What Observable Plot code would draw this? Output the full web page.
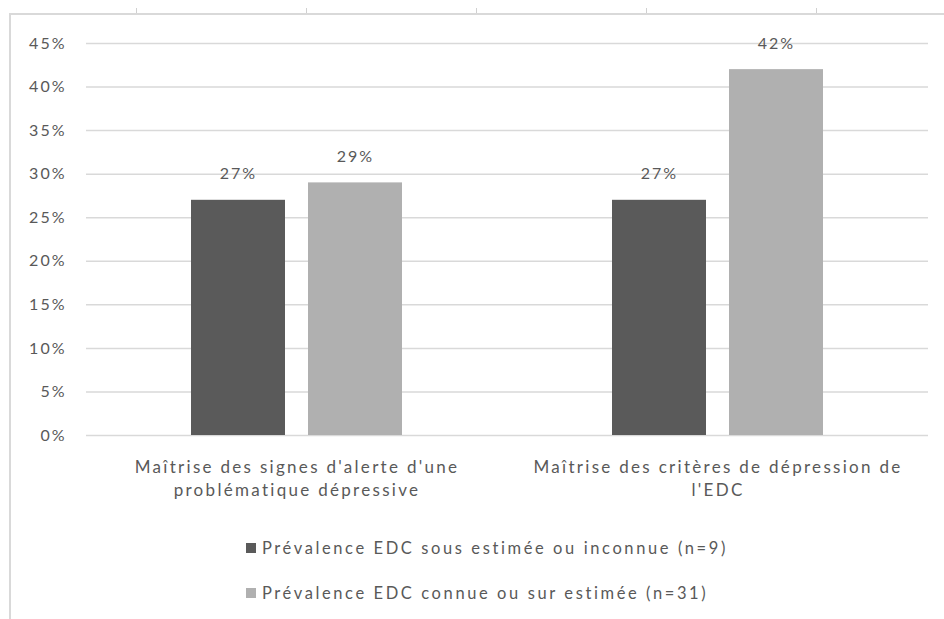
<!DOCTYPE html>
<html>
<head>
<meta charset="utf-8">
<script src="https://cdn.jsdelivr.net/npm/d3@7"></script>
<script src="https://cdn.jsdelivr.net/npm/@observablehq/plot@0.6"></script>
<style>
  html, body { margin: 0; padding: 0; background: #fff; }
  #wrap { position: relative; width: 944px; height: 619px; overflow: hidden; font-family: Lato, "Open Sans", sans-serif; color: #595959; }
  #frame { position: absolute; left: 9px; top: 13px; right: -2px; bottom: -2px; border-left: 2px solid #d9d9d9; border-top: 2px solid #d9d9d9; }
  .colmark { position: absolute; top: 8px; width: 1px; height: 5px; background: #d0d0d0; }
  #chart { position: absolute; left: 0; top: 0; }
  #chart [aria-label="fx-axis tick label"] text { letter-spacing: 2.3px; }
  #chart [aria-label="y-axis tick label"] text { letter-spacing: 2px; }
  #chart [aria-label="text"] text { letter-spacing: 2px; }
  #legend { position: absolute; left: 246px; top: 537px; font-size: 16.5px; letter-spacing: 2.6px; }
  .item { display: flex; align-items: center; height: 22px; margin-bottom: 23px; }
  .sw { width: 10px; height: 10px; margin-right: 6px; }
</style>
</head>
<body>
<div id="wrap">
  <div id="frame"></div>
  <div id="chart"></div>
  <div id="legend"></div>
</div>
<script>
const categories = ["Maîtrise des signes d'alerte d'une\nproblématique dépressive", "Maîtrise des critères de dépression de\nl'EDC"];
const seriesNames = ["Prévalence EDC sous estimée ou inconnue (n=9)", "Prévalence EDC connue ou sur estimée (n=31)"];
const seriesColors = ["#5a5a5a", "#b0b0b0"];
const values1 = [0.27, 0.27];
const values2 = [0.29, 0.42];
const yTicks = [0, 0.05, 0.10, 0.15, 0.20, 0.25, 0.30, 0.35, 0.40, 0.45];
const colMarks = [136, 306, 476, 646, 816];

const data = [];
categories.forEach((c, i) => {
  data.push({cat: c, series: seriesNames[0], value: values1[i]});
  data.push({cat: c, series: seriesNames[1], value: values2[i]});
});

const wrap = document.getElementById("wrap");
colMarks.forEach(x => {
  const m = document.createElement("div");
  m.className = "colmark";
  m.style.left = x + "px";
  wrap.appendChild(m);
});

const fmt = d3.format(".0%");
const chart = Plot.plot({
  width: 944,
  height: 500,
  marginLeft: 86,
  marginRight: 16,
  marginTop: 43,
  marginBottom: 65,
  style: {fontFamily: "Lato, 'Open Sans', sans-serif", fontSize: "16px", color: "#595959", background: "transparent", overflow: "visible"},
  fx: {domain: categories, padding: 0, label: null},
  x: {domain: seriesNames, paddingInner: 0.2, paddingOuter: 0.885, axis: null},
  y: {domain: [0, 0.45], label: null},
  color: {domain: seriesNames, range: seriesColors},
  marks: [
    Plot.gridY(yTicks, {stroke: "#d9d9d9", strokeOpacity: 1, strokeWidth: 1.5}),
    Plot.axisY(yTicks, {tickFormat: fmt, tickSize: 0, tickPadding: 20, fill: "#595959", label: null, fontSize: 16}),
    Plot.axisFx({anchor: "bottom", tickSize: 0, tickPadding: 21, fill: "#595959", label: null, lineHeight: 1.35, fontSize: 17}),
    Plot.barY(data, {fx: "cat", x: "series", y: "value", fill: "series"}),
    Plot.text(data, {fx: "cat", x: "series", y: "value", text: d => fmt(d.value), dy: -26, fill: "#595959", fontSize: 16})
  ]
});
document.getElementById("chart").appendChild(chart);

const legend = document.getElementById("legend");
seriesNames.forEach((s, i) => {
  const it = document.createElement("div");
  it.className = "item";
  const sw = document.createElement("div");
  sw.className = "sw";
  sw.style.background = seriesColors[i];
  const t = document.createElement("span");
  t.textContent = s;
  it.appendChild(sw);
  it.appendChild(t);
  legend.appendChild(it);
});
</script>
</body>
</html>
